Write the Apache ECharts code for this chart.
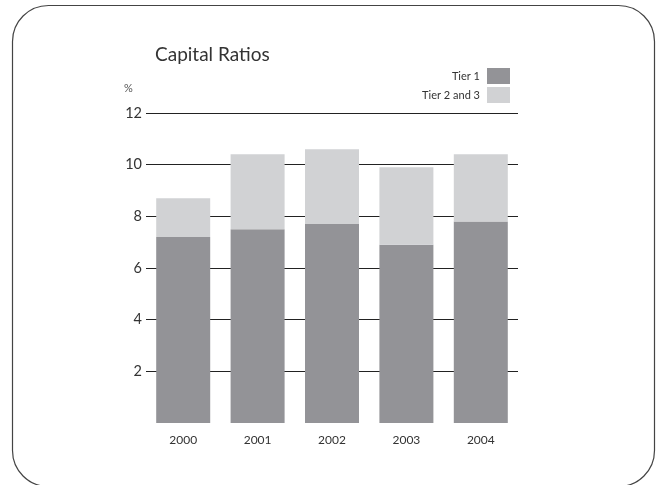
<!DOCTYPE html>
<html>
<head>
<meta charset="utf-8">
<script src="https://cdn.jsdelivr.net/npm/echarts@6/dist/echarts.min.js"></script>
<style>
  html, body { margin: 0; padding: 0; background: #fff; }
  #chart { width: 660px; height: 485px; }
</style>
</head>
<body>
<div id="chart"></div>
<script>
// Capital ratios by year, in percent
const years = ['2000', '2001', '2002', '2003', '2004'];
const tier1 = [7.2, 7.5, 7.7, 6.9, 7.8];
const tier2and3 = [1.5, 2.9, 2.9, 3.0, 2.6];
const yTicks = { min: 0, max: 12, interval: 2 };

const FONT = 'Lato';
const TEXT = '#333';

const chart = echarts.init(document.getElementById('chart'), null, { renderer: 'canvas' });

chart.setOption({
  backgroundColor: '#fff',
  animation: false,
  textStyle: { fontFamily: FONT, color: TEXT },
  graphic: [
    {
      type: 'rect',
      shape: { x: 12.5, y: 5.5, width: 642, height: 481, r: 36 },
      style: { fill: 'none', stroke: '#444', lineWidth: 1.2 },
      z: 0
    }
  ],
  title: [
    {
      text: 'Capital Ratios',
      left: 150, top: 40,
      textStyle: { fontFamily: FONT, fontSize: 19, fontWeight: 'normal', color: TEXT }
    },
    {
      text: '%',
      left: 119, top: 78,
      textStyle: { fontFamily: FONT, fontSize: 11, fontWeight: 'normal', color: '#555' }
    }
  ],
  legend: {
    orient: 'vertical',
    right: 145, top: 63,
    align: 'right',
    itemWidth: 23, itemHeight: 16, itemGap: 3,
    icon: 'rect',
    textStyle: { fontFamily: FONT, fontSize: 11, color: TEXT, padding: [0, 2, 0, 0] },
    data: ['Tier 1', 'Tier 2 and 3']
  },
  grid: { left: 146, right: 142, top: 113, bottom: 62, containLabel: false },
  xAxis: {
    type: 'category',
    data: years,
    axisLine: { show: false },
    axisTick: { show: false },
    axisLabel: { fontFamily: FONT, fontSize: 12, color: TEXT, margin: 11 }
  },
  yAxis: {
    type: 'value',
    min: yTicks.min, max: yTicks.max, interval: yTicks.interval,
    axisLine: { show: false },
    axisTick: { show: false },
    axisLabel: {
      fontFamily: FONT, fontSize: 14.5, color: TEXT, margin: 4,
      formatter: v => (v === 0 ? '' : String(v))
    },
    splitLine: { show: true, showMinLine: false, lineStyle: { color: '#222', width: 1 } }
  },
  series: [
    {
      name: 'Tier 1',
      type: 'bar',
      stack: 'capital',
      data: tier1,
      barWidth: 54,
      itemStyle: { color: '#939397' },
      z: 3
    },
    {
      name: 'Tier 2 and 3',
      type: 'bar',
      stack: 'capital',
      data: tier2and3,
      barWidth: 54,
      itemStyle: { color: '#d1d2d4' },
      z: 3
    }
  ]
});
</script>
</body>
</html>
